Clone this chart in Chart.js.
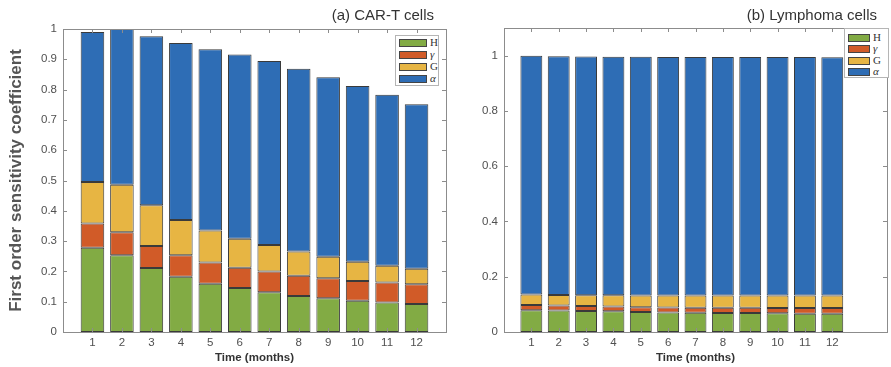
<!DOCTYPE html>
<html>
<head>
<meta charset="utf-8">
<script src="https://cdn.jsdelivr.net/npm/chart.js@4.4.0/dist/chart.umd.min.js"></script>
<style>
  body { margin: 0; background: #fff; }
  #wrap { position: relative; width: 891px; height: 367px; overflow: hidden; font-family: "Liberation Sans", Arial, sans-serif; }
  canvas { position: absolute; top: 0; }
  .title { position: absolute; font-size: 15px; color: #333; white-space: nowrap; line-height: 15px; }
  .legend { position: absolute; background: #fff; border: 1px solid #b5b5b5; box-sizing: border-box; }
  .legend div { position: absolute; height: 8px; border: 1px solid #444; box-sizing: border-box; }
  .legend span { position: absolute; font-family: "Liberation Serif", serif; font-size: 11px; line-height: 11px; color: #333; }
</style>
</head>
<body>
<div id="wrap">
  <canvas id="chartA" width="450" height="367" style="left:0"></canvas>
  <canvas id="chartB" width="441" height="367" style="left:450px"></canvas>
  <div class="title" style="right:457px; top:7px">(a) CAR-T cells</div>
  <div class="title" style="right:14px; top:7px">(b) Lymphoma cells</div>
  <div id="legendA" class="legend" style="left:395px; top:35px; width:44px; height:51px"></div>
  <div id="legendB" class="legend" style="left:844px; top:28px; width:45px; height:50px"></div>
</div>
<script>
const months = ['1', '2', '3', '4', '5', '6', '7', '8', '9', '10', '11', '12'];
const seriesNames = ['H', 'γ', 'G', 'α'];
const colors = ['#82AB44', '#D15B28', '#E7B543', '#2E6DB5'];

// (a) CAR-T cells
const carH     = [0.278, 0.253, 0.211, 0.182, 0.159, 0.145, 0.131, 0.119, 0.111, 0.103, 0.097, 0.092];
const carGamma = [0.080, 0.076, 0.073, 0.071, 0.070, 0.067, 0.069, 0.067, 0.066, 0.065, 0.066, 0.066];
const carG     = [0.137, 0.157, 0.134, 0.117, 0.106, 0.096, 0.087, 0.080, 0.071, 0.064, 0.056, 0.051];
const carAlpha = [0.495, 0.514, 0.558, 0.584, 0.598, 0.608, 0.607, 0.603, 0.593, 0.580, 0.564, 0.543];

// (b) Lymphoma cells
const lymH     = [0.079, 0.078, 0.076, 0.075, 0.072, 0.071, 0.070, 0.069, 0.069, 0.068, 0.066, 0.066];
const lymGamma = [0.019, 0.018, 0.018, 0.017, 0.018, 0.018, 0.018, 0.019, 0.019, 0.019, 0.021, 0.021];
const lymG     = [0.038, 0.038, 0.039, 0.041, 0.042, 0.043, 0.044, 0.044, 0.044, 0.045, 0.045, 0.045];
const lymAlpha = [0.864, 0.864, 0.864, 0.863, 0.864, 0.863, 0.863, 0.863, 0.863, 0.863, 0.863, 0.862];

const tickColor = '#505050';

// matlab style box with inward ticks
const boxTicks = {
    id: 'boxTicks',
    afterDatasetsDraw(chart) {
        const {ctx, chartArea: a, scales: {x, y}} = chart;
        ctx.save();
        ctx.strokeStyle = '#8c8c8c';
        ctx.lineWidth = 1;
        ctx.beginPath();
        x.ticks.forEach((t, i) => {
            if (!t.label) return;
            const px = Math.round(x.getPixelForTick(i)) + 0.5;
            ctx.moveTo(px, a.bottom); ctx.lineTo(px, a.bottom - 4);
            ctx.moveTo(px, a.top); ctx.lineTo(px, a.top + 4);
        });
        y.ticks.forEach((t, i) => {
            const py = Math.round(y.getPixelForTick(i)) + 0.5;
            ctx.moveTo(a.left, py); ctx.lineTo(a.left + 4, py);
            ctx.moveTo(a.right, py); ctx.lineTo(a.right - 4, py);
        });
        ctx.stroke();
        ctx.strokeRect(Math.round(a.left) + 0.5, Math.round(a.top) + 0.5,
            Math.round(a.right - a.left), Math.round(a.bottom - a.top));
        ctx.restore();
    }
};

function pad(arr, after) {
    return [null, ...arr, ...Array(after).fill(null)];
}

function makeChart(id, series, after, yMax, yStep, yWidth, padding, showTitle) {
    const labels = ['', ...months, ...Array(after).fill('')];
    const datasets = series.map((s, i) => ({
        label: seriesNames[i],
        data: pad(s, after),
        backgroundColor: colors[i],
        borderColor: '#3a3a3a',
        borderWidth: 1,
        borderSkipped: false,
        barPercentage: 0.8,
        categoryPercentage: 1,
    }));
    return new Chart(document.getElementById(id), {
        type: 'bar',
        data: { labels: labels, datasets: datasets },
        options: {
            responsive: false,
            animation: false,
            layout: { padding: padding },
            plugins: { legend: { display: false }, tooltip: { enabled: false } },
            scales: {
                x: {
                    stacked: true,
                    offset: false,
                    grid: { display: false, drawTicks: false, tickLength: 0 },
                    border: { display: false },
                    ticks: {
                        autoSkip: false, maxRotation: 0, padding: 4,
                        color: tickColor, font: { family: 'Liberation Sans', size: 11.5 }
                    },
                    title: {
                        display: true, text: 'Time (months)', color: '#333',
                        font: { family: 'Liberation Sans', size: 11.5, weight: 'bold' },
                        padding: { top: 0, bottom: 2 }
                    },
                    afterFit(scale) { scale.height = 35; }
                },
                y: {
                    stacked: true,
                    min: 0, max: yMax,
                    grid: { display: false, drawTicks: false, tickLength: 0 },
                    border: { display: false },
                    ticks: {
                        stepSize: yStep, includeBounds: false, padding: 6,
                        color: tickColor, font: { family: 'Liberation Sans', size: 11.5 },
                        callback: v => String(+v.toFixed(2))
                    },
                    title: {
                        display: showTitle, text: 'First order sensitivity coefficient', color: '#555',
                        font: { family: 'Liberation Sans', size: 17, weight: 'bold' },
                        padding: { top: 6, bottom: 0 }
                    },
                    afterFit(scale) { scale.width = yWidth; }
                }
            }
        },
        plugins: [boxTicks]
    });
}

makeChart('chartA', [carH, carGamma, carG, carAlpha], 1, 1, 0.1, 63,
    { top: 29, right: 4, bottom: 0, left: 0 }, true);
makeChart('chartB', [lymH, lymGamma, lymG, lymAlpha], 2, 1.1, 0.2, 54,
    { top: 28, right: 3, bottom: 0, left: 0 }, false);

function buildLegend(id, sw, rowTop, gap, labelX) {
    const box = document.getElementById(id);
    seriesNames.forEach((name, i) => {
        const d = document.createElement('div');
        d.style.left = '3px';
        d.style.width = sw + 'px';
        d.style.top = (rowTop + i * gap) + 'px';
        d.style.background = colors[i];
        box.appendChild(d);
        const s = document.createElement('span');
        s.textContent = name;
        s.style.left = labelX + 'px';
        s.style.top = (rowTop + i * gap - 2) + 'px';
        if (i === 1 || i === 3) s.style.fontStyle = 'italic';
        box.appendChild(s);
    });
}
buildLegend('legendA', 28, 3, 12, 34);
buildLegend('legendB', 22, 5, 11.4, 28);
</script>
</body>
</html>
